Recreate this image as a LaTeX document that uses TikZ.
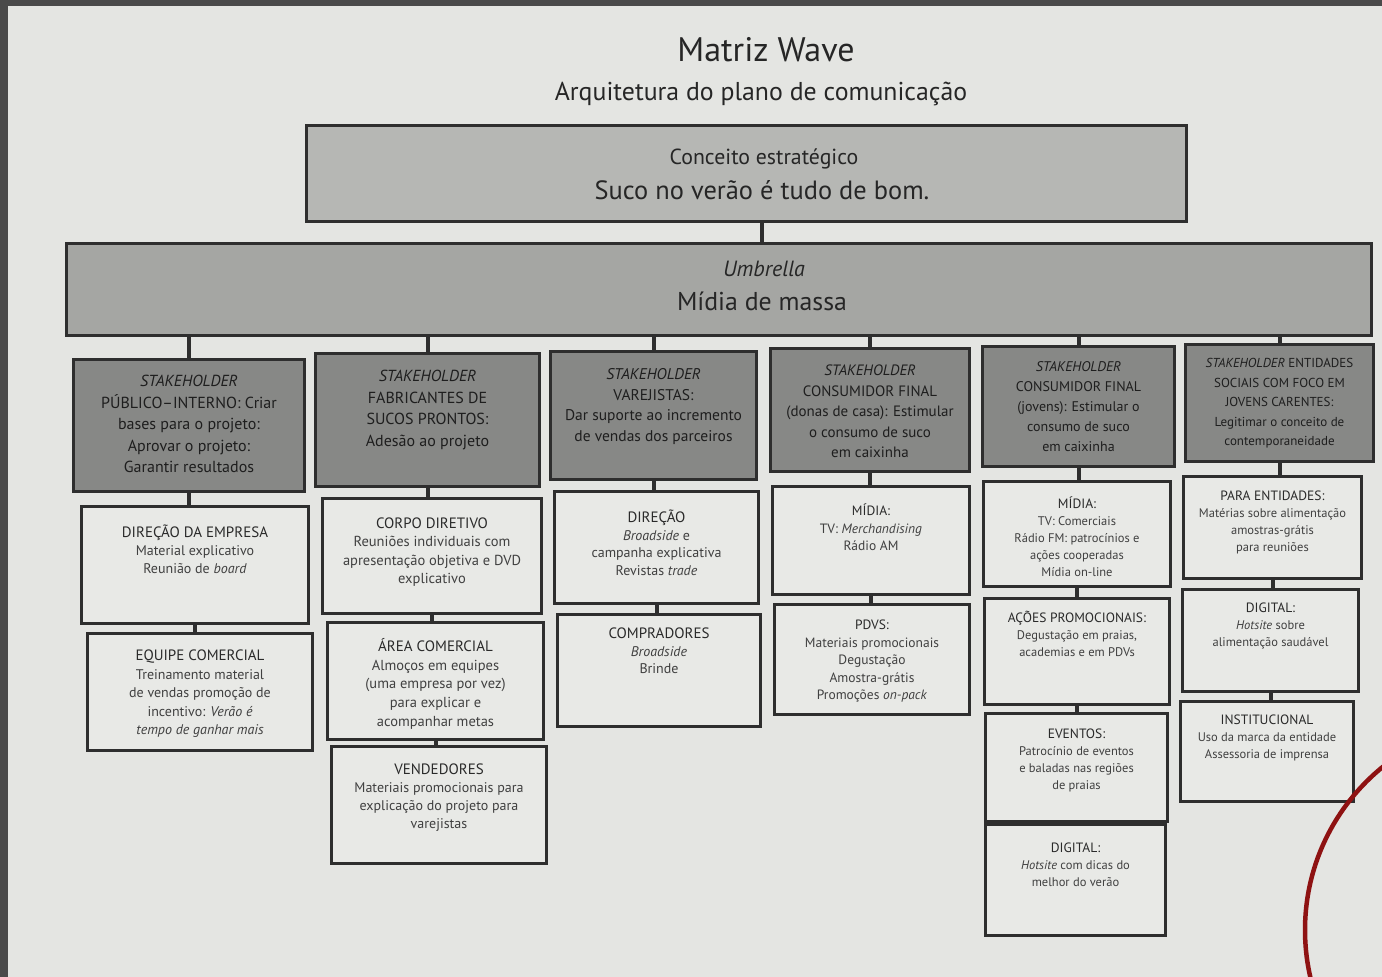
\documentclass[tikz,border=0pt]{standalone}
\usepackage{fontspec}
\setmainfont{PT Sans}
\definecolor{pagebg}{HTML}{E4E5E2}
\definecolor{framec}{HTML}{4A4A4A}
\definecolor{linec}{HTML}{2E2E2E}
\definecolor{concfill}{HTML}{B6B7B4}
\definecolor{umbfill}{HTML}{A5A6A3}
\definecolor{stakefill}{HTML}{878886}
\definecolor{childfill}{HTML}{E8E9E6}
\definecolor{titlec}{HTML}{262626}
\definecolor{stxt}{HTML}{1E1E1E}
\definecolor{ctxt}{HTML}{404040}
\definecolor{htxt}{HTML}{2A2A2A}
\definecolor{arcred}{HTML}{8E1212}
\newcommand{\tb}[4]{\parbox[c][#2][t]{#1}{\centering\rule{0pt}{#3}#4\par}}
\newcommand{\hd}[1]{\textcolor{htxt}{\fontsize{15}{18}\selectfont #1}}
\newcommand{\hds}[1]{\textcolor{htxt}{\fontsize{13.5}{17}\selectfont #1}}
\begin{document}
\begin{tikzpicture}[x=1pt,y=-1pt,
  conc/.style={draw=linec, line width=3pt, fill=concfill, inner sep=0pt, anchor=north west},
  umb/.style={draw=linec, line width=3pt, fill=umbfill, inner sep=0pt, anchor=north west},
  bigtext/.style={text=titlec, inner sep=0pt},
  stake/.style={draw=linec, line width=3pt, fill=stakefill, inner sep=0pt, anchor=north west, text=stxt, font=\fontsize{16}{21.5}\selectfont},
  child/.style={draw=linec, line width=3pt, fill=childfill, inner sep=0pt, anchor=north west, text=ctxt, font=\fontsize{14}{18}\selectfont},
  childs/.style={child, font=\fontsize{12.5}{17}\selectfont},
  conn/.style={draw=linec, line width=4pt}]
\useasboundingbox (0,0) rectangle (1382,977);
\fill[pagebg] (0,0) rectangle (1382,977);
\fill[framec] (0,0) rectangle (1382,6);
\fill[framec] (0,0) rectangle (8,977);

% titles
\node[bigtext, font=\fontsize{34}{40}\selectfont] (title) at (766,50) {Matriz Wave};
\node[bigtext, font=\fontsize{25.8}{30}\selectfont] (subtitle) at (761,94) {Arquitetura do plano de comunicação};

% top boxes
\node[conc, minimum width=880pt, minimum height=96pt] (con) at (305,124) {};
\node[bigtext, font=\fontsize{21.8}{26}\selectfont, anchor=base] (contop) at (764,164) {Conceito estratégico};
\node[bigtext, font=\fontsize{26.4}{30}\selectfont, anchor=base] (conbot) at (762,199) {Suco no verão é tudo de bom.};
\node[umb, minimum width=1305pt, minimum height=92pt] (umb) at (65,242) {};
\node[bigtext, font=\fontsize{22}{26}\selectfont\itshape, anchor=base] (umbtop) at (764,276) {Umbrella};
\node[bigtext, font=\fontsize{25.8}{30}\selectfont, anchor=base] (umbbot) at (762,310) {Mídia de massa};

% stakeholders
\node[stake] (s1) at (72,358) {\tb{231pt}{132pt}{27pt}{\textit{STAKEHOLDER}\\PÚBLICO–INTERNO: Criar\\bases para o projeto:\\Aprovar o projeto:\\Garantir resultados}};
\node[stake] (s2) at (314,352) {\tb{224pt}{133pt}{28pt}{\textit{STAKEHOLDER}\\FABRICANTES DE\\SUCOS PRONTOS:\\Adesão ao projeto}};
\node[stake, font=\fontsize{15.5}{20.5}\selectfont] (s3) at (549,350) {\tb{206pt}{128pt}{28pt}{\textit{STAKEHOLDER}\\VAREJISTAS:\\Dar suporte ao incremento\\de vendas dos parceiros}};
\node[stake, font=\fontsize{15}{20.5}\selectfont] (s4) at (769,347) {\tb{199pt}{123pt}{27pt}{\textit{STAKEHOLDER}\\CONSUMIDOR FINAL\\(donas de casa): Estimular\\o consumo de suco\\em caixinha}};
\node[stake, font=\fontsize{14}{20}\selectfont] (s5) at (981,345) {\tb{192pt}{120pt}{25pt}{\textit{STAKEHOLDER}\\CONSUMIDOR FINAL\\(jovens): Estimular o\\consumo de suco\\em caixinha}};
\node[stake, font=\fontsize{13}{19.5}\selectfont] (s6) at (1184,343) {\tb{188pt}{117pt}{23pt}{\textit{STAKEHOLDER} ENTIDADES\\SOCIAIS COM FOCO EM\\JOVENS CARENTES:\\Legitimar o conceito de\\contemporaneidade}};

% column 1
\node[child] (c11) at (80,505) {\tb{227pt}{117pt}{31pt}{\hd{DIREÇÃO DA EMPRESA}\\Material explicativo\\Reunião de \textit{board}}};
\node[child, font=\fontsize{14}{18.5}\selectfont] (c12) at (86,632) {\tb{225pt}{117pt}{27pt}{\hd{EQUIPE COMERCIAL}\\Treinamento material\\de vendas promoção de\\incentivo: \textit{Verão é}\\\textit{tempo de ganhar mais}}};
% column 2
\node[child, font=\fontsize{14.5}{18.3}\selectfont] (c21) at (321,497) {\tb{219pt}{115pt}{30pt}{\hd{CORPO DIRETIVO}\\Reuniões individuais com\\apresentação objetiva e DVD\\explicativo}};
\node[child, font=\fontsize{14.5}{18.7}\selectfont] (c22) at (326,621) {\tb{216pt}{117pt}{29pt}{\hd{ÁREA COMERCIAL}\\Almoços em equipes\\(uma empresa por vez)\\para explicar e\\acompanhar metas}};
\node[child, font=\fontsize{14}{18}\selectfont] (c23) at (330,745) {\tb{215pt}{117pt}{28pt}{\hd{VENDEDORES}\\Materiais promocionais para\\explicação do projeto para\\varejistas}};
% column 3
\node[child, font=\fontsize{14}{17.7}\selectfont] (c31) at (553,490) {\tb{204pt}{112pt}{31pt}{\hd{DIREÇÃO}\\\textit{Broadside} e\\campanha explicativa\\Revistas \textit{trade}}};
\node[child, font=\fontsize{14}{17.7}\selectfont] (c32) at (556,613) {\tb{203pt}{112pt}{24pt}{\hd{COMPRADORES}\\\textit{Broadside}\\Brinde}};
% column 4
\node[child, font=\fontsize{13.5}{17.5}\selectfont] (c41) at (771,485) {\tb{197pt}{108pt}{29pt}{\hds{MÍDIA:}\\TV: \textit{Merchandising}\\Rádio AM}};
\node[child, font=\fontsize{13.5}{17.5}\selectfont] (c42) at (773,603) {\tb{195pt}{110pt}{25pt}{\hds{PDVS:}\\Materiais promocionais\\Degustação\\Amostra-grátis\\Promoções \textit{on-pack}}};
% column 5
\node[childs] (c51) at (982,480) {\tb{187pt}{105pt}{27pt}{\hds{MÍDIA:}\\TV: Comerciais\\Rádio FM: patrocínios e\\ações cooperadas\\Mídia on-line}};
\node[childs] (c52) at (983,597) {\tb{185pt}{106pt}{24pt}{\hds{AÇÕES PROMOCIONAIS:}\\Degustação em praias,\\academias e em PDVs}};
\node[childs] (c53) at (984,712) {\tb{182pt}{108pt}{25pt}{\hds{EVENTOS:}\\Patrocínio de eventos\\e baladas nas regiões\\de praias}};
\node[childs] (c54) at (984,823) {\tb{180pt}{111pt}{28pt}{\hds{DIGITAL:}\\\textit{Hotsite} com dicas do\\melhor do verão}};
% column 6
\node[childs] (c61) at (1182,475) {\tb{178pt}{102pt}{24pt}{\hds{PARA ENTIDADES:}\\Matérias sobre alimentação\\amostras-grátis\\para reuniões}};
\node[childs] (c62) at (1181,588) {\tb{176pt}{102pt}{23pt}{\hds{DIGITAL:}\\\textit{Hotsite} sobre\\alimentação saudável}};
\node[childs] (c63) at (1179,700) {\tb{173pt}{100pt}{23pt}{\hds{INSTITUCIONAL}\\Uso da marca da entidade\\Assessoria de imprensa}};

% connectors
\draw[conn] (conbot |- con.south) -- (conbot |- umb.north);
\foreach \s in {s1,s2,s3,s4,s5,s6}
  \draw[conn] (\s.north |- umb.south) -- (\s.north);
\draw[conn] (s1.south) -- (s1.south |- c11.north);
\draw[conn] (c11.south) -- (c11.south |- c12.north);
\draw[conn] (s2.south) -- (s2.south |- c21.north);
\draw[conn] (c21.south) -- (c21.south |- c22.north);
\draw[conn] (c22.south) -- (c22.south |- c23.north);
\draw[conn] (s3.south) -- (s3.south |- c31.north);
\draw[conn] (c31.south) -- (c31.south |- c32.north);
\draw[conn] (s4.south) -- (s4.south |- c41.north);
\draw[conn] (c41.south) -- (c41.south |- c42.north);
\draw[conn] (s5.south) -- (s5.south |- c51.north);
\draw[conn] (c51.south) -- (c51.south |- c52.north);
\draw[conn] (c52.south) -- (c52.south |- c53.north);
\draw[conn] (c53.south) -- (c53.south |- c54.north);
\draw[conn] (s6.south) -- (s6.south |- c61.north);
\draw[conn] (c61.south) -- (c61.south |- c62.north);
\draw[conn] (c62.south) -- (c62.south |- c63.north);

% red arc
\begin{scope}
  \clip (0,0) rectangle (1382,977);
  \draw[draw=arcred, line width=4.5pt] (1515,930) circle[radius=210pt];
\end{scope}
\end{tikzpicture}
\end{document}
